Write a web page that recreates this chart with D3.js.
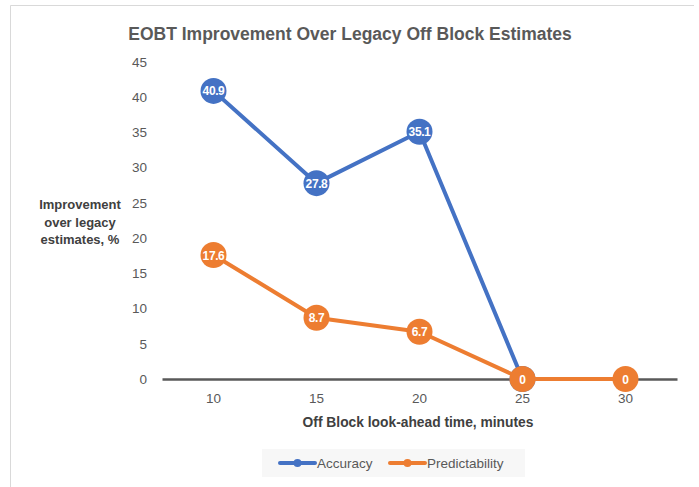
<!DOCTYPE html>
<html>
<head>
<meta charset="utf-8">
<script src="https://cdn.jsdelivr.net/npm/d3@7"></script>
<style>
  body { margin: 0; background: #fff; }
  svg { display: block; font-family: "Liberation Sans", Arial, sans-serif; }
</style>
</head>
<body>
<svg id="chart"></svg>
<script>
'use strict';

var WIDTH = 699;
var HEIGHT = 487;

// data
var categories = ["10", "15", "20", "25", "30"];
var accuracy = [40.9, 27.8, 35.1, 0, null];
var predictability = [17.6, 8.7, 6.7, 0, 0];
var yTicks = [0, 5, 10, 15, 20, 25, 30, 35, 40, 45];
var seriesNames = ["Accuracy", "Predictability"];
var seriesColors = ["#4472C4", "#ED7D31"];

var svg = d3.select("#chart").attr("width", WIDTH).attr("height", HEIGHT);

// frame (only top and left edges show)
svg.append("line").attr("x1", 10.5).attr("x2", 694).attr("y1", 5.5).attr("y2", 5.5)
  .attr("stroke", "#d9d9d9").attr("stroke-width", 1);
svg.append("line").attr("x1", 10.5).attr("x2", 10.5).attr("y1", 5.5).attr("y2", HEIGHT)
  .attr("stroke", "#d9d9d9").attr("stroke-width", 1);

var x = d3.scaleBand().domain(categories).range([162, 677]);
var y = d3.scaleLinear().domain([0, 45]).range([379, 62]);

function cx(d, i) { return x(categories[i]) + x.bandwidth() / 2; }

// title
svg.append("text")
  .attr("x", 350).attr("y", 40)
  .attr("text-anchor", "middle")
  .attr("font-size", 17.5).attr("font-weight", "bold")
  .attr("fill", "#595959")
  .text("EOBT Improvement Over Legacy Off Block Estimates");

// y axis
var yAxis = svg.append("g")
  .attr("transform", "translate(147,0)")
  .call(d3.axisLeft(y).tickValues(yTicks).tickSize(0).tickPadding(0));
yAxis.select(".domain").remove();
yAxis.selectAll("text").attr("font-size", 13.5).attr("fill", "#595959")
  .attr("font-family", "Liberation Sans, Arial, sans-serif");

// x axis
var xAxis = svg.append("g")
  .attr("transform", "translate(0," + y(0) + ")")
  .call(d3.axisBottom(x).tickSize(0).tickPadding(14));
xAxis.select(".domain").attr("stroke", "#595959").attr("stroke-width", 2.5);
xAxis.selectAll("text").attr("font-size", 13.5).attr("fill", "#595959")
  .attr("font-family", "Liberation Sans, Arial, sans-serif");

// axis titles
svg.append("text")
  .attr("x", 418).attr("y", 427)
  .attr("text-anchor", "middle")
  .attr("font-size", 13.8).attr("font-weight", "bold").attr("fill", "#404040")
  .text("Off Block look-ahead time, minutes");

var yTitle = svg.append("text")
  .attr("text-anchor", "middle")
  .attr("font-size", 13).attr("font-weight", "bold").attr("fill", "#404040");
["Improvement", "over legacy", "estimates, %"].forEach(function(t, i) {
  yTitle.append("tspan").attr("x", 80).attr("y", 209 + i * 17.5).text(t);
});

// series
var line = d3.line()
  .defined(function(d) { return d != null; })
  .x(cx)
  .y(function(d) { return y(d); });

var allSeries = [accuracy, predictability];

allSeries.forEach(function(vals, s) {
  var g = svg.append("g");
  g.append("path").datum(vals)
    .attr("d", line)
    .attr("fill", "none")
    .attr("stroke", seriesColors[s])
    .attr("stroke-width", 4)
    .attr("stroke-linejoin", "round");

  var pts = vals.map(function(v, i) { return {v: v, i: i}; })
    .filter(function(p) { return p.v != null; });

  g.selectAll("circle").data(pts).enter().append("circle")
    .attr("cx", function(p) { return cx(p.v, p.i); })
    .attr("cy", function(p) { return y(p.v); })
    .attr("r", 13)
    .attr("fill", seriesColors[s]);

  g.selectAll("text").data(pts).enter().append("text")
    .attr("x", function(p) { return cx(p.v, p.i); })
    .attr("y", function(p) { return y(p.v) + 4.5; })
    .attr("text-anchor", "middle")
    .attr("font-size", 12).attr("font-weight", "bold")
    .attr("letter-spacing", -0.4)
    .attr("fill", "#fff")
    .text(function(p) { return p.v; });
});

// legend
svg.append("rect")
  .attr("x", 262).attr("y", 449).attr("width", 263).attr("height", 28)
  .attr("fill", "#f7f7f7");

var legendX = [280, 390];
seriesNames.forEach(function(name, i) {
  var lg = svg.append("g").attr("transform", "translate(" + legendX[i] + ",463)");
  lg.append("line").attr("x1", 0).attr("x2", 35).attr("y1", 0).attr("y2", 0)
    .attr("stroke", seriesColors[i]).attr("stroke-width", 4).attr("stroke-linecap", "round");
  lg.append("circle").attr("cx", 17.5).attr("cy", 0).attr("r", 4).attr("fill", seriesColors[i]);
  lg.append("text").attr("x", 37).attr("y", 5)
    .attr("font-size", 13.5).attr("fill", "#595959")
    .text(name);
});
</script>
</body>
</html>
